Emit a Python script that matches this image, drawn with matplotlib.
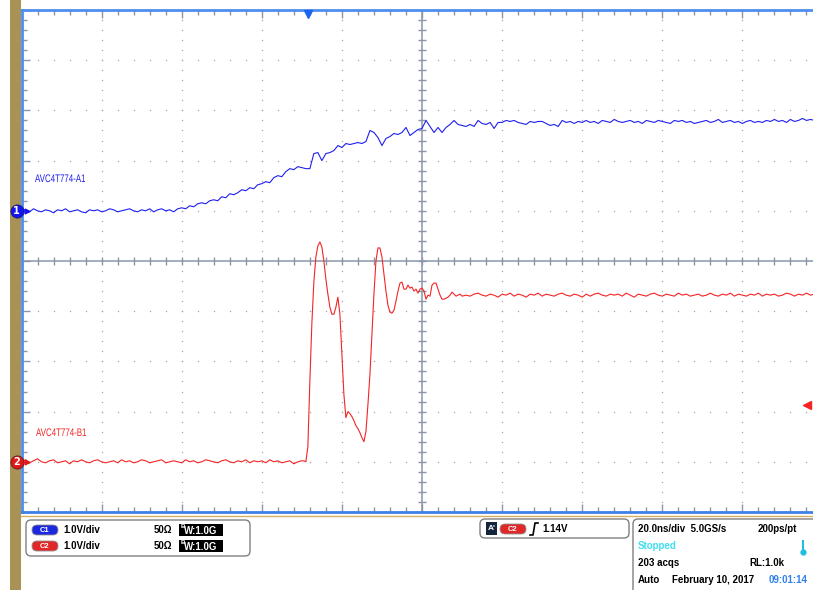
import numpy as np
import matplotlib
matplotlib.use('Agg')
import matplotlib.pyplot as plt
from matplotlib.patches import Rectangle, FancyBboxPatch, PathPatch
from matplotlib.textpath import TextPath
from matplotlib.font_manager import FontProperties
from matplotlib.transforms import Affine2D

W, H = 813, 590

# scope settings
ns_per_div = 20.0
ch1_volts_per_div = 1.0
ch2_volts_per_div = 1.0
ch1_offset_div = 1.0
ch2_offset_div = -4.0
trig_level = 1.14
trig_time = -28.5
ch1_label = 'AVC4T774-A1'
ch2_label = 'AVC4T774-B1'

# channel 1 (A1), volts, 1 ns per point starting at -100 ns
ch1_t0 = -100.0
ch1_dt = 1.0
ch1_v = [
    0.00, 0.02, -0.02, 0.04, 0.00, -0.02, 0.02, 0.00, -0.04, 0.02,
    0.00, 0.04, -0.02, 0.00, 0.02, -0.02, -0.04, 0.02, 0.00, 0.02,
    -0.02, 0.00, 0.04, 0.02, -0.02, 0.00, 0.02, 0.04, 0.00, -0.02,
    0.02, 0.00, 0.04, -0.02, 0.02, 0.04, 0.00, 0.02, -0.02, 0.04,
    0.06, 0.04, 0.10, 0.08, 0.14, 0.16, 0.14, 0.20, 0.22, 0.20,
    0.28, 0.26, 0.34, 0.32, 0.36, 0.42, 0.40, 0.46, 0.44, 0.52,
    0.54, 0.58, 0.56, 0.66, 0.70, 0.68, 0.78, 0.84, 0.82, 0.88,
    0.86, 0.84, 0.84, 1.14, 1.16, 1.00, 1.14, 1.16, 1.20, 1.30,
    1.26, 1.34, 1.32, 1.34, 1.36, 1.34, 1.38, 1.60, 1.56, 1.46,
    1.30, 1.44, 1.48, 1.54, 1.52, 1.56, 1.66, 1.50, 1.56, 1.62,
    1.64, 1.80, 1.68, 1.56, 1.66, 1.56, 1.66, 1.72, 1.80, 1.72,
    1.70, 1.68, 1.72, 1.68, 1.80, 1.74, 1.72, 1.76, 1.64, 1.76,
    1.76, 1.80, 1.78, 1.80, 1.76, 1.74, 1.72, 1.78, 1.76, 1.78,
    1.78, 1.74, 1.70, 1.72, 1.68, 1.80, 1.76, 1.78, 1.74, 1.78,
    1.76, 1.80, 1.76, 1.78, 1.74, 1.80, 1.78, 1.76, 1.82, 1.78,
    1.76, 1.78, 1.80, 1.76, 1.78, 1.74, 1.80, 1.78, 1.76, 1.80,
    1.78, 1.76, 1.74, 1.80, 1.78, 1.80, 1.76, 1.78, 1.74, 1.76,
    1.78, 1.80, 1.76, 1.78, 1.82, 1.76, 1.78, 1.80, 1.76, 1.78,
    1.74, 1.78, 1.80, 1.76, 1.78, 1.76, 1.80, 1.78, 1.82, 1.78,
    1.80, 1.76, 1.82, 1.78, 1.80, 1.84, 1.80, 1.82, 1.80,
]

# channel 2 (B1), volts: before edge (1 ns), edge + ringing (0.5 ns), settled (1 ns)
ch2_pre_t0, ch2_pre_dt = -100.0, 1.0
ch2_pre_v = [
    0.00, 0.04, -0.02, 0.02, 0.06, 0.00, -0.02, 0.02, 0.04, -0.02,
    0.00, 0.02, -0.04, 0.02, 0.00, 0.04, 0.00, -0.02, 0.02, 0.04,
    0.00, -0.02, 0.00, 0.02, -0.02, 0.04, 0.00, 0.02, -0.02, 0.00,
    0.04, 0.02, -0.02, 0.00, 0.02, 0.04, -0.02, 0.00, 0.02, 0.00,
    -0.02, 0.04, 0.00, 0.02, -0.02, 0.00, 0.04, 0.02, 0.00, -0.02,
    0.02, 0.04, 0.00, -0.02, 0.02, 0.00, 0.04, -0.02, 0.02, 0.00,
    0.02, -0.02, 0.04, 0.00, 0.02, -0.02, 0.00, 0.02, -0.04, 0.00,
    0.02,
]
ch2_edge_t0, ch2_edge_dt = -29.5, 0.5
ch2_edge_v = [
    0.02, 0.00, 0.30, 1.60, 2.76, 3.58, 4.08, 4.30, 4.38, 4.28,
    4.00, 3.64, 3.34, 3.08, 2.94, 2.94, 3.08, 3.28, 2.94, 2.14,
    1.34, 0.88, 1.00, 0.96, 0.90, 0.82, 0.72, 0.66, 0.58, 0.48,
    0.40, 0.60, 1.14, 1.74, 2.54, 3.34, 4.00, 4.26, 4.26, 4.08,
    3.74, 3.40, 3.12, 2.98, 2.96, 3.02, 3.20, 3.40, 3.56, 3.58,
    3.44, 3.44, 3.52, 3.46, 3.48, 3.40, 3.44, 3.36, 3.44, 3.46,
    3.40, 3.24, 3.32, 3.30, 3.52, 3.56, 3.56, 3.44, 3.32, 3.24,
    3.24, 3.26, 3.28, 3.32, 3.38, 3.34, 3.30, 3.32, 3.34, 3.30,
]
ch2_post_t0, ch2_post_dt = 11.0, 1.0
ch2_post_v = [
    3.32, 3.30, 3.34, 3.36, 3.32, 3.30, 3.34, 3.32, 3.28, 3.34,
    3.32, 3.36, 3.30, 3.34, 3.32, 3.28, 3.34, 3.32, 3.36, 3.30,
    3.34, 3.32, 3.30, 3.34, 3.36, 3.32, 3.30, 3.34, 3.32, 3.28,
    3.34, 3.30, 3.34, 3.36, 3.32, 3.30, 3.34, 3.32, 3.34, 3.30,
    3.36, 3.32, 3.28, 3.34, 3.32, 3.30, 3.34, 3.36, 3.32, 3.30,
    3.34, 3.32, 3.30, 3.36, 3.32, 3.34, 3.30, 3.32, 3.34, 3.30,
    3.32, 3.36, 3.32, 3.30, 3.34, 3.32, 3.36, 3.30, 3.34, 3.32,
    3.30, 3.34, 3.32, 3.36, 3.30, 3.34, 3.32, 3.34, 3.30, 3.32,
    3.36, 3.34, 3.30, 3.34, 3.32, 3.36, 3.32, 3.34, 3.30, 3.34,
]

ch1_t = ch1_t0 + ch1_dt * np.arange(len(ch1_v))
ch2_t = np.concatenate([
    ch2_pre_t0 + ch2_pre_dt * np.arange(len(ch2_pre_v)),
    ch2_edge_t0 + ch2_edge_dt * np.arange(len(ch2_edge_v)),
    ch2_post_t0 + ch2_post_dt * np.arange(len(ch2_post_v)),
])
ch2_v = np.array(ch2_pre_v + ch2_edge_v + ch2_post_v)

BLUE = '#1f1ff2'
RED = '#f52424'
GRID = '#8a96a8'
DOT = '#a4a4a4'
BORDER = '#4d8ff0'

fig = plt.figure(figsize=(W / 100, H / 100), dpi=100)

# overlay in pixel coordinates for the frame decorations and readout panel
ov = fig.add_axes([0, 0, 1, 1], zorder=0)
ov.set_xlim(0, W)
ov.set_ylim(H, 0)
ov.axis('off')

# graticule axes, x in ns, y in divisions
left_px, top_px, bot_px = 21.5, 10.0, 512.0
ax = fig.add_axes([left_px / W, 1 - bot_px / H, 801 / W, (bot_px - top_px) / H], zorder=1)
ax.set_xlim(-5 * ns_per_div, 5 * ns_per_div)
ax.set_ylim(-5, 5)

xmaj = np.arange(-100, 101, 20)
xmin = np.arange(-100, 101, 4)
ymaj = np.arange(-5, 6, 1)
ymin = np.arange(-5, 5.01, 0.2)

ax.set_xticks(xmaj)
ax.set_xticks(xmin, minor=True)
ax.set_yticks(ymaj)
ax.set_yticks(ymin, minor=True)
ax.tick_params(which='both', direction='in', top=True, bottom=True, left=True, right=False,
               labelbottom=False, labelleft=False, color=GRID, width=1)
ax.tick_params(which='major', length=5.5)
ax.tick_params(which='minor', length=3.5)

for s in ['left', 'top']:
    ax.spines[s].set_color(BORDER)
    ax.spines[s].set_linewidth(2)
ax.spines['bottom'].set_color('#3f80e8')
ax.spines['bottom'].set_linewidth(2)
ax.spines['right'].set_visible(False)

# dotted division lines
for x in xmaj[1:-1]:
    if x == 0:
        continue
    ax.plot(np.full(len(ymin), x), ymin, ls='none', marker='s', ms=0.9, color=DOT, mew=0)
for y in ymaj[1:-1]:
    if y == 0:
        continue
    ax.plot(xmin, np.full(len(xmin), y), ls='none', marker='s', ms=0.9, color=DOT, mew=0)

# centre cross with ticks
ax.axhline(0, color=GRID, lw=1.1)
ax.axvline(0, color=GRID, lw=1.1)
ax.vlines(xmin, -0.07, 0.07, color=GRID, lw=1)
ax.hlines(ymin, -0.9, 0.9, color=GRID, lw=1)

# traces
ax.plot(ch1_t, np.array(ch1_v) / ch1_volts_per_div + ch1_offset_div, color=BLUE, lw=0.8, zorder=5)
ax.plot(ch2_t, ch2_v / ch2_volts_per_div + ch2_offset_div, color=RED, lw=0.8, zorder=5)


def narrow_label(x, y, s, color):
    # condensed label drawn as a path in display pixels, x squeezed like the scope's narrow font
    tp = TextPath((0, 0), s, size=11, prop=FontProperties(family='Liberation Sans'))
    tr = Affine2D().scale(0.72, 1.0).translate(x, H - y)
    ax.add_patch(PathPatch(tp, fc=color, ec='none', transform=tr, zorder=20))


# trace labels (pixel positions of the scope's label boxes)
narrow_label(35, 182, ch1_label, BLUE)
narrow_label(36, 436, ch2_label, RED)

# channel ground markers
ytr = ax.get_yaxis_transform()
for off, col, num in [(ch1_offset_div, '#1414f0', '1'), (ch2_offset_div, '#e01818', '2')]:
    ax.plot([-0.006], [off], marker='o', ms=9.5, color=col, mec='#202060' if num == '1' else '#602020',
            mew=0.6, transform=ytr, clip_on=False, zorder=10)
    ax.text(-0.006, off, num, color='white', fontsize=7, fontweight='bold', ha='center', va='center',
            transform=ytr, zorder=11)
    ax.plot([0.007], [off], marker='>', ms=3.5, color=col, transform=ytr, clip_on=False, zorder=10)

# trigger position and level
ax.plot([trig_time], [0.993], marker='v', ms=6, color='#1a66f0', transform=ax.get_xaxis_transform(),
        clip_on=False, zorder=10)
ax.plot([96.2], [ch2_offset_div + trig_level / ch2_volts_per_div], marker='<', ms=6, color=RED,
        clip_on=False, zorder=10)

# frame decorations
ov.add_patch(Rectangle((10, 0), 10.5, H, color='#a99256', lw=0))
ov.plot([21, W], [515.5, 515.5], color='#d6b060', lw=1)

FONT = ['Liberation Sans', 'DejaVu Sans']


def txt(x, y, s, color='black', size=7, weight='bold', **kw):
    ov.text(x, y, s, color=color, fontsize=size, fontweight=weight, va='center', ha='left', family=FONT, **kw)


def pill(x, y, w, h, col, s):
    ov.add_patch(FancyBboxPatch((x, y), w, h, boxstyle='round,pad=0,rounding_size=5', fc=col,
                                ec='#909090', lw=0.6))
    ov.text(x + w / 2, y + h / 2 + 0.5, s, color='white', fontsize=5.5, fontweight='bold',
            ha='center', va='center', family=FONT)


# channel readout box
ov.add_patch(FancyBboxPatch((26, 520), 224, 36, boxstyle='round,pad=0,rounding_size=5',
                            fc='white', ec='#808080', lw=1))
for yy, col, name in [(530, '#1c28e0', 'C1'), (546, '#e02828', 'C2')]:
    pill(32, yy - 5, 26, 10, col, name)
    txt(63, yy, '1.0V/div')
    txt(154, yy, '50Ω')
    ov.add_patch(Rectangle((179, yy - 6), 44, 12, color='black', lw=0))
    ov.text(181, yy - 3, 'B', color='white', fontsize=4.5, fontweight='bold', ha='left', va='center', family=FONT)
    txt(184, yy + 1, 'W:1.0G', color='white')

# trigger readout box
ov.add_patch(FancyBboxPatch((480, 519), 149, 19, boxstyle='round,pad=0,rounding_size=5',
                            fc='white', ec='#808080', lw=1))
ov.add_patch(Rectangle((486, 522), 11, 13, color='#14243c', lw=0))
ov.text(491.5, 528.5, "A'", color='white', fontsize=6, fontweight='bold', ha='center', va='center', family=FONT)
pill(500, 524, 26, 10, '#e02828', 'C2')
ov.plot([530, 533, 535, 538], [535, 535, 523, 523], color='black', lw=1.2)
txt(542, 529, '1.14V')

# timebase / acquisition box
ov.add_patch(FancyBboxPatch((633, 519), 220, 120, boxstyle='round,pad=0,rounding_size=5',
                            fc='white', ec='#808080', lw=1))
txt(638, 529, '20.0ns/div  5.0GS/s')
txt(758, 529, '200ps/pt')
txt(638, 546, 'Stopped', color='#3ee0f0')
ov.plot([803, 803], [541, 551], color='#22bde0', lw=1.5)
ov.plot([803], [552], marker='o', ms=3.5, color='#22bde0')
txt(638, 563, '203 acqs')
txt(749, 563, 'RL:1.0k')
txt(638, 580, 'Auto')
txt(672, 580, 'February 10, 2017')
txt(769, 580, '09:01:14', color='#2f7ff0')

fig.savefig('out.png', dpi=100)
